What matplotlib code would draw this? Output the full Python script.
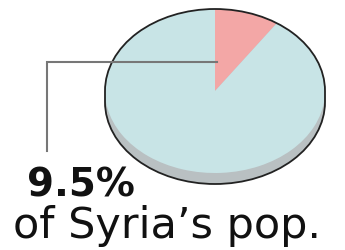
import numpy as np
import matplotlib.pyplot as plt
from matplotlib.patches import Arc

# data
shares = [9.5, 90.5]
slice_colors = ['#f3a7a6', '#c8e4e6']
side_color = '#b9c0c2'
pct_label = '9.5%'
caption = "of Syria\u2019s pop."

W, H = 345, 251
fig = plt.figure(figsize=(W / 100, H / 100), dpi=100)

# pie axes, squashed so the pie reads as a tilted disc
cx, cy, rx, ry = 215, 92, 110, 82
depth = 11 / ry
bx0, bx1, by0, by1 = 100, 330, 5, 190
ax = fig.add_axes([bx0 / W, 1 - by1 / H, (bx1 - bx0) / W, (by1 - by0) / H])

# side of the disc
for off in np.linspace(depth, 0, 10):
    ax.pie(shares, colors=[side_color] * 2, center=(0, -off), radius=1,
           startangle=90, counterclock=False, wedgeprops=dict(linewidth=0))
ax.add_patch(Arc((0, -depth), 2, 2, theta1=180, theta2=360, color='#222222', lw=1.3))
ax.vlines([-1, 1], -depth, 0, color='#222222', lw=1.3)

# top face
ax.pie(shares, colors=slice_colors, startangle=90, counterclock=False,
       wedgeprops=dict(linewidth=0))
ax.add_patch(Arc((0, 0), 2, 2, theta1=0, theta2=180, color='#222222', lw=1.3))

ax.set_aspect('auto')
ax.set_xlim((bx0 - cx) / rx, (bx1 - cx) / rx)
ax.set_ylim((cy - by1) / ry, (cy - by0) / ry)
ax.axis('off')

# overlay for leader line and text
ov = fig.add_axes([0, 0, 1, 1])
ov.set_xlim(0, W)
ov.set_ylim(H, 0)
ov.axis('off')
ov.patch.set_alpha(0)
ov.plot([cx + 2, 47, 47], [63, 63, 152], color='#777777', lw=1.5,
        solid_joinstyle='miter')

ov.text(27, 197, pct_label, fontsize=28, fontweight='bold', family='DejaVu Sans',
        ha='left', va='baseline', color='#111111')
ov.text(13, 238, caption, fontsize=31, family='DejaVu Sans',
        ha='left', va='baseline', color='#111111')

fig.savefig('out.png', dpi=100)
